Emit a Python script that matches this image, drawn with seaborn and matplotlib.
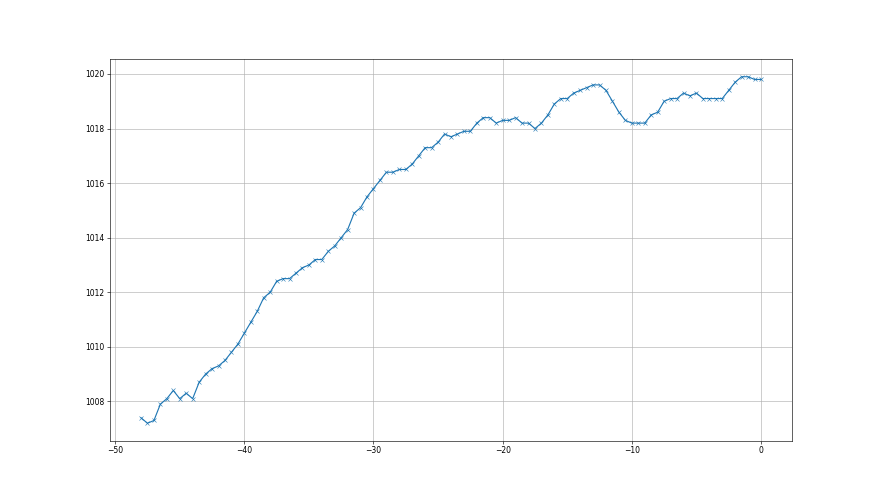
import numpy as np
import pandas as pd
import matplotlib
matplotlib.use("Agg")
import matplotlib.pyplot as plt
import seaborn as sns

# hours before now (0.5 h step)
hours = np.arange(-48, 0.5, 0.5)

# pressure readings (hPa)
pressure = [
    1007.4, 1007.2, 1007.3, 1007.9, 1008.1, 1008.4, 1008.1, 1008.3, 1008.1, 1008.7,
    1009.0, 1009.2, 1009.3, 1009.5, 1009.8, 1010.1, 1010.5, 1010.9, 1011.3, 1011.8,
    1012.0, 1012.4, 1012.5, 1012.5, 1012.7, 1012.9, 1013.0, 1013.2, 1013.2, 1013.5,
    1013.7, 1014.0, 1014.3, 1014.9, 1015.1, 1015.5, 1015.8, 1016.1, 1016.4, 1016.4,
    1016.5, 1016.5, 1016.7, 1017.0, 1017.3, 1017.3, 1017.5, 1017.8, 1017.7, 1017.8,
    1017.9, 1017.9, 1018.2, 1018.4, 1018.4, 1018.2, 1018.3, 1018.3, 1018.4, 1018.2,
    1018.2, 1018.0, 1018.2, 1018.5, 1018.9, 1019.1, 1019.1, 1019.3, 1019.4, 1019.5,
    1019.6, 1019.6, 1019.4, 1019.0, 1018.6, 1018.3, 1018.2, 1018.2, 1018.2, 1018.5,
    1018.6, 1019.0, 1019.1, 1019.1, 1019.3, 1019.2, 1019.3, 1019.1, 1019.1, 1019.1,
    1019.1, 1019.4, 1019.7, 1019.9, 1019.9, 1019.8, 1019.8,
]

df = pd.DataFrame({"hours": hours, "pressure": pressure})

fig, ax = plt.subplots(figsize=(16, 9), dpi=55)

sns.lineplot(
    data=df,
    x="hours",
    y="pressure",
    marker="x",
    color="tab:blue",
    markeredgecolor="tab:blue",
    ax=ax,
)

ax.set_xlabel("")
ax.set_ylabel("")
ax.grid(True)

plt.savefig("out.png", dpi=55)
